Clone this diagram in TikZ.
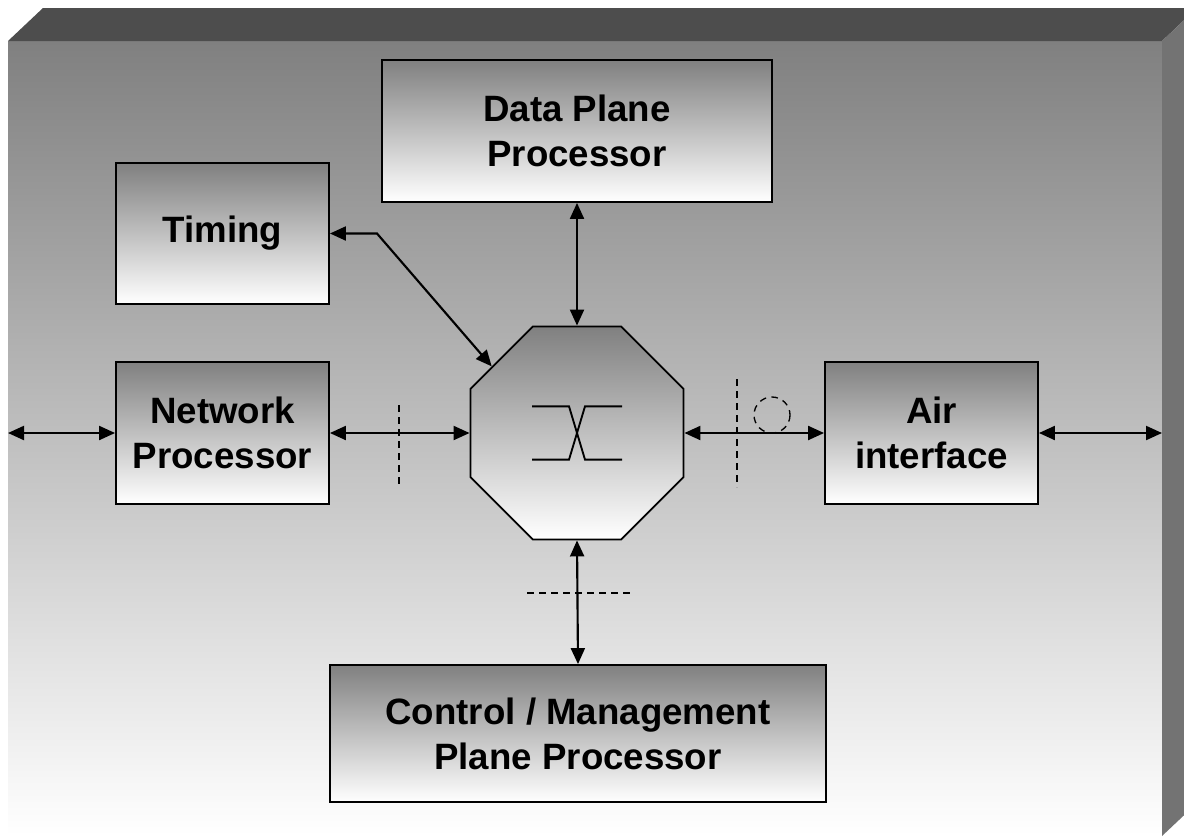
\documentclass[tikz,border=0pt]{standalone}
\usepackage{fontspec}
\setmainfont{Liberation Sans}
\usetikzlibrary{arrows.meta,shapes.geometric}
\definecolor{topface}{HTML}{4D4D4D}
\definecolor{sideface}{HTML}{737373}
\definecolor{shadetop}{HTML}{808080}
\tikzset{
  box/.style={draw, line width=1.4pt, top color=shadetop, bottom color=white,
    font=\fontsize{27.5}{33.75}\selectfont\bfseries, align=center, inner sep=0pt},
  octbox/.style={draw, line width=1.4pt, top color=shadetop, bottom color=white,
    regular polygon, regular polygon sides=8, minimum size=172.9pt, inner sep=0pt},
  link/.style={line width=1.6pt, {Triangle[length=12pt,width=10.5pt]}-{Triangle[length=12pt,width=10.5pt]}},
  cut/.style={line width=1pt, dash pattern=on 5pt off 4pt},
  swline/.style={line width=1.4pt}
}
\begin{document}
\begin{tikzpicture}[x=0.75pt,y=-0.75pt]
\useasboundingbox (0,0) rectangle (1184,836);
\clip (0,0) rectangle (1184,836);
% 3D panel
\shade[top color=shadetop, bottom color=white] (8,41) rectangle (1162,836);
\fill[topface] (8,41) -- (43,8) -- (1197,8) -- (1162,41) -- cycle;
\fill[sideface] (1162,41) -- (1197,8) -- (1197,803) -- (1162,836) -- cycle;

% nodes
\node[box, minimum width=292.5pt, minimum height=106.5pt] (dp) at (577,131) {Data Plane\\Processor};
\node[box, minimum width=159.75pt, minimum height=105.75pt] (tim) at (222.5,233.5) {Timing};
\node[box, minimum width=159.75pt, minimum height=106.5pt] (net) at (222.5,433) {Network\\Processor};
\node[box, minimum width=159.75pt, minimum height=106.5pt] (air) at (931.5,433) {Air\\interface};
\node[box, minimum width=372pt, minimum height=102.75pt] (ctl) at (578,733.5) {Control / Management\\Plane Processor};
\node[octbox] (oct) at (577,433) {};

% switch symbol
\draw[swline] ([shift={(-33.75pt,20pt)}]oct.center) -- ([shift={(-6pt,20pt)}]oct.center) -- ([shift={(6pt,-20pt)}]oct.center) -- ([shift={(33.75pt,-20pt)}]oct.center);
\draw[swline] ([shift={(-33.75pt,-20pt)}]oct.center) -- ([shift={(-6pt,-20pt)}]oct.center) -- ([shift={(6pt,20pt)}]oct.center) -- ([shift={(33.75pt,20pt)}]oct.center);

% free ends and bend
\coordinate (lend) at (8,433);
\coordinate (rend) at (1162,433);
\coordinate (tb) at (377,233.5);

% connectors
\draw[link] (lend) -- (net.west);
\draw[link] (net.east) -- (oct.west);
\draw[link] (oct.east) -- (air.west);
\draw[link] (air.east) -- (rend);
\draw[link] (dp.south) -- (oct.north);
\draw[link] (oct.south) -- (ctl.north);
\draw[link] (tim.east) -- (tb) -- (oct.142);

% cut marks
\draw[cut] (399,405) -- (399,487);
\draw[cut] (737,379) -- (737,487);
\draw[cut] (527,593) -- (633,593);
\draw[cut] (772,415) circle[radius=18];
\end{tikzpicture}
\end{document}
